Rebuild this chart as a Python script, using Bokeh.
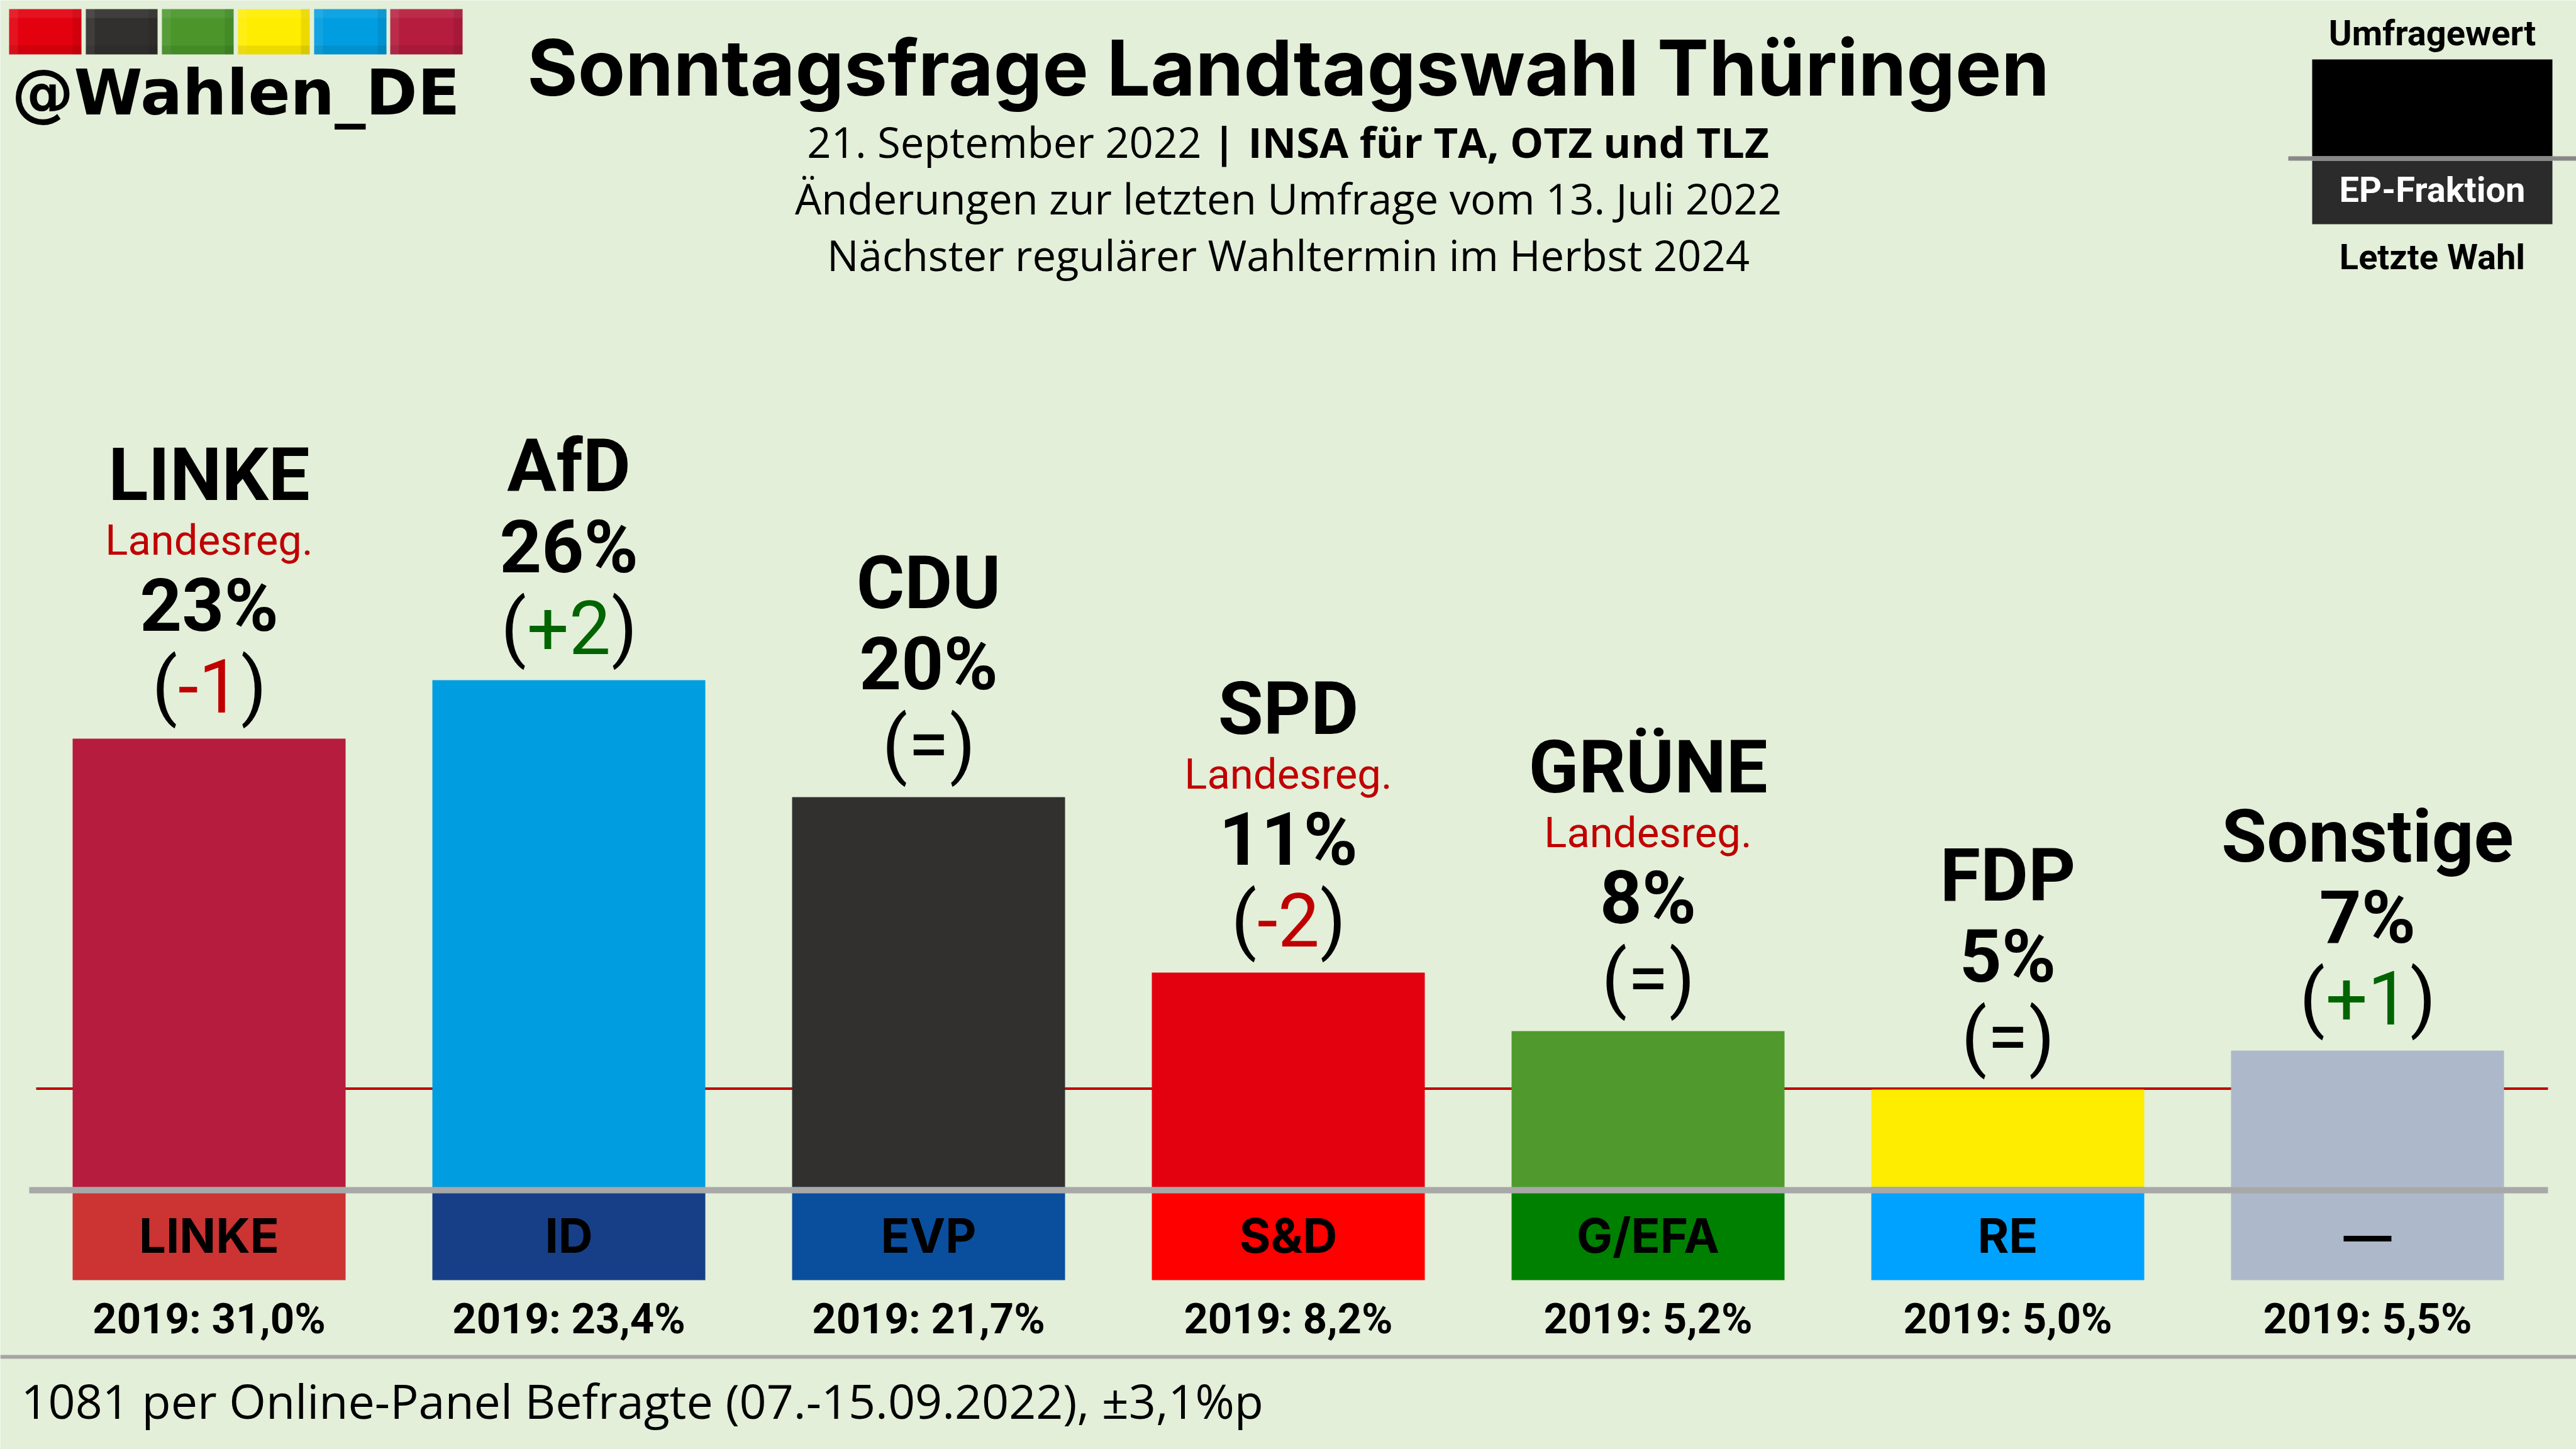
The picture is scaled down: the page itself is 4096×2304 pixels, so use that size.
from bokeh.core.properties import value
from bokeh.embed import file_html
from bokeh.models import ColumnDataSource, Range1d
from bokeh.plotting import figure
from bokeh.resources import INLINE

# ---- data ----
parties = ["LINKE", "AfD", "CDU", "SPD", "GRÜNE", "FDP", "Sonstige"]
values = [23, 26, 20, 11, 8, 5, 7]
changes = ["-1", "+2", "=", "-2", "=", "=", "+1"]
in_government = [True, False, False, True, True, False, False]
bar_colors = ["#B51C3D", "#009EE0", "#32302E", "#E3000F", "#509A2D", "#FFED00", "#ADB8CA"]
groups = ["LINKE", "ID", "EVP", "S&D", "G/EFA", "RE", "—"]
group_colors = ["#CC3333", "#163F87", "#0A4F9E", "#FF0000", "#008000", "#00A2FF", "#ADB8CA"]
last_vote = ["2019: 31,0%", "2019: 23,4%", "2019: 21,7%", "2019: 8,2%", "2019: 5,2%", "2019: 5,0%", "2019: 5,5%"]
logo_colors = ["#E3000F", "#32302E", "#4A962B", "#FFED00", "#009EE0", "#B51C3D"]

title = "Sonntagsfrage Landtagswahl Thüringen"
sub_date = "21. September 2022"
sub_inst = "INSA für TA, OTZ und TLZ"
sub_change = "Änderungen zur letzten Umfrage vom 13. Juli 2022"
sub_next = "Nächster regulärer Wahltermin im Herbst 2024"
footer = "1081 per Online-Panel Befragte (07.-15.09.2022), ±3,1%p"
handle = "@Wahlen_DE"

# ---- layout ----
BG = "#E3EFD9"
W, H = 4096, 2304
UNIT = 31.0
ZERO = 1887
PITCH = 572
FIRST = 332
BAR_W = 434 / PITCH
GREEN, RED = "#006400", "#C00000"
K = 0.345  # baseline correction of the svg text, in em
pos = list(range(len(parties)))

p = figure(
    width=W, height=H, output_backend="svg", toolbar_location=None,
    x_range=Range1d(-FIRST / PITCH, (W - FIRST) / PITCH),
    y_range=Range1d(-(H - ZERO) / UNIT, ZERO / UNIT),
    min_border=0, background_fill_color=BG, border_fill_color=BG, outline_line_color=None,
    styles={"position": "fixed", "left": "0", "top": "0"},
)
p.axis.visible = False
p.grid.visible = False
p.extra_x_ranges["px"] = Range1d(0, W)
p.extra_y_ranges["px"] = Range1d(H, 0)


def box(l, r, t, b, color, alpha=1.0):
    p.quad(left=[l], right=[r], top=[t], bottom=[b], fill_color=color, fill_alpha=alpha,
           line_color=None, x_range_name="px", y_range_name="px")


def txt(x, y, s, size, font, style="normal", color="black", align="center"):
    p.text(x=[x], y=[y - K * size], text=[s], text_font=value(font), text_font_style=style, text_font_size=f"{size}px",
           text_color=color, text_align=align, text_baseline="alphabetic",
           x_range_name="px", y_range_name="px")


# threshold line behind bars
box(57, 4051, 1728.5, 1732.5, "#C00000")

# bars and group boxes
src = ColumnDataSource(dict(x=pos, top=values, color=bar_colors, group=groups, gcolor=group_colors,
                            vote=last_vote))
p.vbar(x="x", top="top", bottom=0, width=BAR_W, fill_color="color", line_color=None, source=src)
p.vbar(x="x", top=0, bottom=-(2035 - 1887) / UNIT, width=BAR_W, fill_color="gcolor", line_color=None, source=src)

# baseline
box(46, 4051, 1887, 1897, "#A8A8A8")

# texts under the baseline
p.text(x="x", y=0, text="group", source=src, y_offset=103 - K * 76, text_font=value("Inter"), text_font_style="bold",
       text_font_size="76px", text_align="center", text_baseline="alphabetic", text_color="black")
p.text(x="x", y=0, text="vote", source=src, y_offset=233 - K * 67, text_font=value("Roboto"), text_font_style="bold",
       text_font_size="67px", text_align="center", text_baseline="alphabetic", text_color="black")

# stacked labels above bars
EM = {"+": .568, "-": .276, "=": .549, "1": .5615, "2": .5615}
SIZE = 118
half = [sum(EM[c] for c in ch) * SIZE / 2 + 1 for ch in changes]
label = ColumnDataSource(dict(
    x=pos, y=values, name=parties,
    name_off=[(-379 if g else -300) - K * 117 for g in in_government],
    pct=[f"{v}%" for v in values],
    chg=changes,
    chg_color=[GREEN if c[0] == "+" else RED if c[0] == "-" else "black" for c in changes],
    left=[-h for h in half], right=half,
    po=["("] * 7, pc=[")"] * 7,
))
common = dict(source=label, text_align="center", text_baseline="alphabetic", text_font=value("Roboto"))
p.text(x="x", y="y", text="name", y_offset="name_off", text_font_style="bold", text_font_size="117px",
       text_color="black", **common)
p.text(x="x", y="y", text="pct", y_offset=-171 - K * 117, text_font_style="bold", text_font_size="117px",
       text_color="black", **common)
p.text(x="x", y="y", text="chg", y_offset=-43 - K * SIZE, text_font_size=f"{SIZE}px", text_color="chg_color", **common)
base = dict(source=label, text_baseline="alphabetic", text_font=value("Roboto"), text_font_size=f"{SIZE}px", text_color="black")
p.text(x="x", y="y", text="po", x_offset="left", y_offset=-43 - K * SIZE, text_align="right", **base)
p.text(x="x", y="y", text="pc", x_offset="right", y_offset=-43 - K * SIZE, text_align="left", **base)

gov_idx = [i for i, g in enumerate(in_government) if g]
gov = ColumnDataSource(dict(x=gov_idx, y=[values[i] for i in gov_idx],
                            t=["Landesreg."] * len(gov_idx)))
p.text(x="x", y="y", text="t", y_offset=-292 - K * 67, source=gov, text_font=value("Roboto"), text_font_size="65px" if False else "67px",
       text_color=RED, text_align="center", text_baseline="alphabetic")

# logo squares
for (l, r), c in zip([(14, 129), (136, 250), (257, 371), (378, 492), (499, 614), (620, 735)], logo_colors):
    box(l, r, 14, 86, c)
    box(l, r, 14, 28, "white", 0.07)
    box(l, l + 14, 14, 86, "white", 0.07)
    box(r - 14, r, 14, 86, "black", 0.08)
    box(l, r, 72, 86, "black", 0.08)
txt(18, 181, handle, 99, "DejaVu Sans", "bold", align="left")

# header
txt(2048, 149, title, 123, "Inter", "bold")
txt(1910, 248, sub_date, 67, "Open Sans", align="right")
txt(1946, 248, "|", 67, "Open Sans", "bold")
txt(1984, 248, sub_inst, 67, "Open Sans", "bold", align="left")
txt(2048, 338, sub_change, 67, "Open Sans")
txt(2048, 428, sub_next, 67, "Open Sans")

# key
box(3676, 4058, 94, 248, "black")
box(3676, 4058, 255, 356, "#2B2B2B")
box(3638, 4096, 248, 255, "#888888")
txt(3867, 72, "Umfragewert", 56, "Roboto", "bold")
txt(3867, 321, "EP-Fraktion", 56, "Roboto", "bold", color="white")
txt(3867, 428, "Letzte Wahl", 56, "Roboto", "bold")

# footer
box(0, 4096, 2154, 2160, "#A5A5A5")
txt(33, 2252, footer, 75.4, "Open Sans", align="left")

open("out.html", "w").write(file_html(p, INLINE))
